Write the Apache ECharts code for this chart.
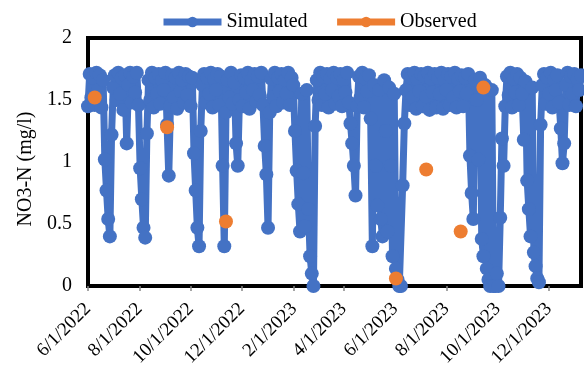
<!DOCTYPE html>
<html>
<head>
<meta charset="utf-8">
<script src="https://cdn.jsdelivr.net/npm/echarts@6/dist/echarts.min.js"></script>
<style>
  html, body { margin: 0; padding: 0; background: #fff; }
  #chart { width: 584px; height: 368px; }
</style>
</head>
<body>
<div id="chart"></div>
<script>
// simulated NO3-N, one value every 2 days starting 6/1/2022
var simStart = '2022-06-01';
var simStepDays = 2;
var simJunJul22 = [1.45, 1.71, 1.52, 1.68, 1.46, 1.72, 1.58, 1.70, 1.44, 1.66,
  1.02, 0.77, 0.54, 0.40, 1.22, 1.60, 1.70, 1.50, 1.72, 1.55,
  1.68, 1.42, 1.70, 1.15, 1.62, 1.72, 1.48, 1.69, 1.56, 1.72];
var simAugSep22 = [1.46, 0.95, 0.70, 0.47, 0.39, 1.23, 1.66, 1.50, 1.72, 1.44,
  1.68, 1.55, 1.71, 1.47, 1.66, 1.58, 1.72, 1.30, 0.89, 1.45,
  1.70, 1.52, 1.68, 1.43, 1.72, 1.57, 1.66, 1.48, 1.71, 1.54];
var simOctNov22 = [1.69, 1.45, 1.68, 1.07, 0.77, 0.47, 0.32, 1.25, 1.62, 1.71,
  1.48, 1.68, 1.55, 1.72, 1.44, 1.67, 1.58, 1.71, 1.46, 1.69,
  0.97, 0.32, 1.40, 1.66, 1.52, 1.72, 1.47, 1.64, 1.15, 0.97];
var simDecJan23 = [1.50, 1.70, 1.45, 1.68, 1.56, 1.72, 1.43, 1.66, 1.58, 1.71,
  1.49, 1.69, 1.54, 1.72, 1.46, 1.13, 0.90, 0.47, 1.40, 1.67,
  1.52, 1.72, 1.45, 1.68, 1.57, 1.71, 1.48, 1.66, 1.55, 1.72];
var simFebMar23 = [1.46, 1.68, 1.62, 1.25, 0.93, 0.66, 0.44, 1.55, 0.91, 0.48,
  1.58, 0.62, 0.24, 0.10, 0.00, 1.29, 1.66, 1.50, 1.72, 1.46,
  1.69, 1.55, 1.71, 1.44, 1.67, 1.58, 1.72, 1.47, 1.68, 1.53];
var simAprMay23 = [1.71, 1.45, 1.66, 1.56, 1.72, 1.48, 1.31, 1.15, 0.97, 0.73,
  1.45, 1.69, 1.52, 1.72, 1.44, 1.67, 1.57, 1.70, 1.35, 0.32,
  1.62, 0.97, 0.65, 1.58, 0.54, 0.40, 1.66, 1.25, 0.44, 1.60];
var simJunJul23 = [0.97, 0.24, 1.55, 0.14, 0.05, 0.00, 0.00, 0.81, 1.31, 1.58,
  1.71, 1.46, 1.68, 1.52, 1.72, 1.43, 1.66, 1.57, 1.71, 1.45,
  1.69, 1.53, 1.72, 1.42, 1.67, 1.56, 1.71, 1.44, 1.68, 1.55];
var simAugSep23 = [1.72, 1.43, 1.66, 1.58, 1.71, 1.46, 1.69, 1.52, 1.72, 1.44,
  1.67, 1.57, 1.70, 1.45, 1.68, 1.55, 1.71, 1.05, 0.75, 0.54,
  1.66, 1.50, 1.02, 1.68, 0.38, 0.24, 1.62, 0.14, 0.05, 0.00];
var simOctNov23 = [1.58, 0.00, 0.00, 0.10, 0.00, 0.55, 1.19, 0.97, 1.45, 1.69,
  1.54, 1.72, 1.44, 1.67, 1.56, 1.71, 1.46, 1.68, 1.55, 1.18,
  1.65, 0.85, 0.62, 0.40, 1.60, 0.27, 0.16, 0.06, 0.03, 1.30];
var simDecJan24 = [1.62, 1.71, 1.47, 1.68, 1.55, 1.72, 1.44, 1.66, 1.58, 1.70,
  1.48, 1.27, 0.99, 1.15, 1.62, 1.72, 1.46, 1.69, 1.55, 1.71,
  1.45, 1.67, 1.58, 1.70];

// observed samples
var obsDates = ['2022-06-09', '2022-09-03', '2022-11-12', '2023-06-02', '2023-07-08', '2023-08-18', '2023-09-14'];
var obsValues = [1.52, 1.28, 0.52, 0.06, 0.94, 0.44, 1.60];

var xTickLabels = ['6/1/2022', '8/1/2022', '10/1/2022', '12/1/2022', '2/1/2023',
  '4/1/2023', '6/1/2023', '8/1/2023', '10/1/2023', '12/1/2023'];
var xEnd = '2024-01-08';

// x positions are days counted from simStart
var DAY = 86400000;
function utc(y, m, d) { return Date.UTC(y, m - 1, d); }
function isoDay(s) {
  var p = s.split('-').map(Number);
  var s0 = simStart.split('-').map(Number);
  return Math.round((utc(p[0], p[1], p[2]) - utc(s0[0], s0[1], s0[2])) / DAY);
}
function mdyDay(s) {
  var p = s.split('/').map(Number);
  return isoDay(p[2] + '-' + p[0] + '-' + p[1]);
}

var simValues = [].concat(simJunJul22, simAugSep22, simOctNov22, simDecJan23, simFebMar23,
  simAprMay23, simJunJul23, simAugSep23, simOctNov23, simDecJan24);
var simData = simValues.map(function (v, i) { return [i * simStepDays, v]; });
var obsData = obsDates.map(function (d, i) { return [isoDay(d), obsValues[i]]; });
var tickDays = xTickLabels.map(mdyDay);

var font = 'Liberation Serif, Times New Roman, serif';
var blue = '#4472C4';
var orange = '#ED7D31';

var myChart = echarts.init(document.getElementById('chart'), null, { renderer: 'canvas' });

var option = {
  animation: false,
  textStyle: { fontFamily: font, color: '#000' },
  legend: {
    left: 155,
    top: 7,
    itemWidth: 58,
    itemHeight: 13,
    itemGap: 26,
    textStyle: { fontFamily: font, fontSize: 20, color: '#000' },
    data: [
      { name: 'Simulated', lineStyle: { width: 7, color: blue, opacity: 1 } },
      { name: 'Observed', lineStyle: { width: 7, color: orange, opacity: 1 } }
    ]
  },
  grid: {
    left: 88,
    right: 3,
    top: 38,
    bottom: 82,
    outerBoundsMode: 'none',
    show: true,
    borderColor: '#000',
    borderWidth: 4
  },
  xAxis: {
    type: 'value',
    min: 0,
    max: isoDay(xEnd),
    splitLine: { show: false },
    axisLine: { show: false },
    axisTick: {
      show: true,
      customValues: tickDays,
      length: 5,
      lineStyle: { color: '#888', width: 1.5 }
    },
    axisLabel: {
      customValues: tickDays,
      rotate: 45,
      margin: 20,
      fontFamily: font,
      fontSize: 19,
      color: '#000',
      formatter: function (value) {
        var i = tickDays.indexOf(Math.round(value));
        return i >= 0 ? xTickLabels[i] : '';
      }
    }
  },
  yAxis: {
    type: 'value',
    min: 0,
    max: 2,
    interval: 0.5,
    name: 'NO3-N (mg/l)',
    nameLocation: 'middle',
    nameGap: 52,
    nameTextStyle: { fontFamily: font, fontSize: 20, color: '#000', padding: [0, 14, 0, 0] },
    splitLine: { show: false },
    axisLine: { show: false },
    axisTick: { show: false },
    axisLabel: { fontFamily: font, fontSize: 20, color: '#000', margin: 16 }
  },
  series: [
    {
      name: 'Simulated',
      type: 'line',
      data: simData,
      clip: false,
      symbol: 'circle',
      symbolSize: 14,
      showSymbol: true,
      showAllSymbol: true,
      itemStyle: { color: blue },
      lineStyle: { color: blue, width: 7 }
    },
    {
      name: 'Observed',
      type: 'line',
      data: obsData,
      clip: false,
      symbol: 'circle',
      symbolSize: 14,
      showSymbol: true,
      itemStyle: { color: orange },
      lineStyle: { width: 0, opacity: 0 }
    }
  ]
};

myChart.setOption(option);
window.addEventListener('resize', myChart.resize);
</script>
</body>
</html>
